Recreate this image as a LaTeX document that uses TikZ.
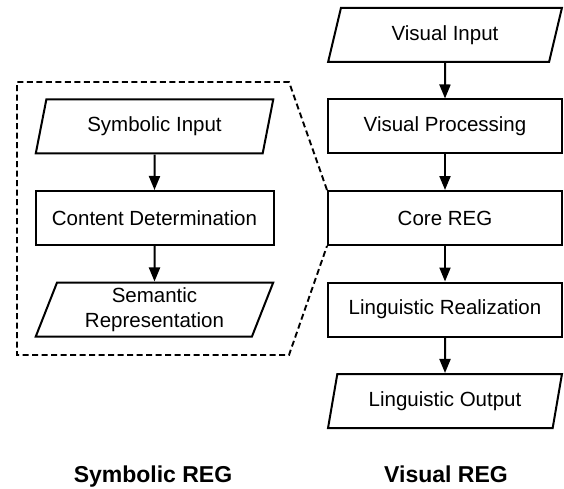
\documentclass[tikz,border=0pt]{standalone}
\usepackage{fontspec}
\setmainfont{Liberation Sans}
\usetikzlibrary{shapes.geometric,arrows.meta}

\begin{document}
\begin{tikzpicture}[node distance=91.5pt, x=1pt, y=1pt, >={Triangle[length=14pt,width=11pt]}]
    \tikzstyle{REGstep}=[rectangle,draw=black,line width=2pt,minimum width=234pt,minimum height=54pt,inner sep=0pt,font=\fontsize{20.5}{25}\selectfont,align=center]
    \tikzstyle{REGdata}=[REGstep,trapezium,trapezium left angle=71,trapezium right angle=109,trapezium stretches=true]
    \useasboundingbox (0,0) rectangle (564,488);

    % visual REG
    \node[REGdata] (vin) at (445,453) {Visual Input};
    \node[REGstep, below of=vin] (vproc) {Visual Processing};
    \node[REGstep, below of=vproc] (core) {Core REG};
    \node[REGstep, below of=core] (lreal) {Linguistic Realization};
    \node[REGdata, below of=lreal] (lout) {Linguistic Output};

    % symbolic REG
    \node[REGdata, left of=vproc, node distance=290.5pt, minimum width=238pt] (symin) {Symbolic Input};
    \node[REGstep, below of=symin, minimum width=238pt] (content) {Content Determination};
    \node[REGdata, below of=content, minimum width=238pt] (sem) {Semantic\\Representation};

    % outline
    \coordinate (otr) at (289,406);
    \coordinate (otl) at (17,406);
    \coordinate (obl) at (17,133);
    \coordinate (obr) at (289,133);
    \draw[line width=1.9pt, dash pattern=on 6pt off 3.5pt] (core.north west) -- (otr) -- (otl) -- (obl) -- (obr) -- (core.south west);

    % labels
    \node[anchor=base, font=\bfseries\fontsize{23}{27}\selectfont] (symlabel) at (153,6) {Symbolic REG};
    \node[anchor=base, font=\bfseries\fontsize{23}{27}\selectfont] (vislabel) at (446,6) {Visual REG};

    % edges
    \draw[->, line width=2pt] (vin) -- (vproc);
    \draw[->, line width=2pt] (vproc) -- (core);
    \draw[->, line width=2pt] (core) -- (lreal);
    \draw[->, line width=2pt] (lreal) -- (lout);
    \draw[->, line width=2pt] (symin) -- (content);
    \draw[->, line width=2pt] (content) -- (sem);

\end{tikzpicture}
\end{document}
